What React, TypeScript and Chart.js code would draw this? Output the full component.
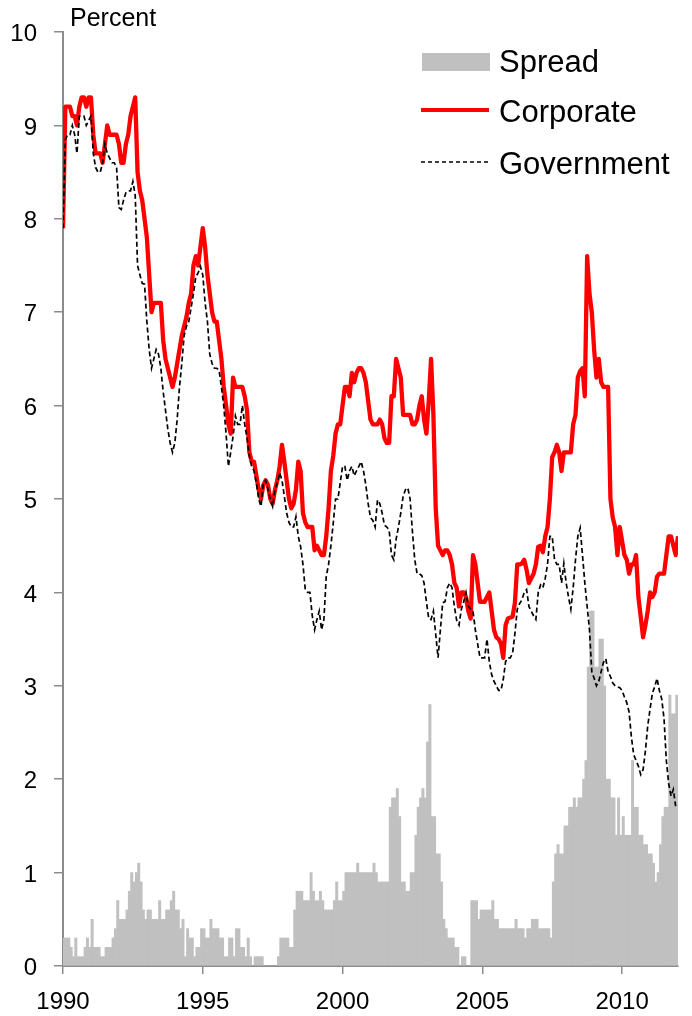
import React, { useEffect, useRef } from "react";
import { Chart, registerables } from "chart.js";

Chart.register(...registerables);

const START_YEAR = 1990;
const END_YEAR = 2012;
const xTickYears = [1990, 1995, 2000, 2005, 2010];
const axisTitle = "Percent";
const legendLabels = ["Spread", "Corporate", "Government"];

// Monthly corporate bond yield, Jan 1990 .. Jan 2012 (percent)
const corporate = [
  7.9, 9.2, 9.2, 9.2, 9.1, 9.1, 9.0, 9.2, 9.3, 9.3,
  9.2, 9.3, 9.3, 8.9, 8.7, 8.7, 8.7, 8.6, 8.8, 9.0,
  8.9, 8.9, 8.9, 8.9, 8.8, 8.6, 8.6, 8.8, 8.9, 9.1,
  9.2, 9.3, 8.5, 8.3, 8.2, 8.0, 7.8, 7.4, 7.0, 7.1,
  7.1, 7.1, 7.1, 6.7, 6.5, 6.4, 6.3, 6.2, 6.3, 6.45,
  6.6, 6.75, 6.85, 6.95, 7.1, 7.2, 7.5, 7.6, 7.5, 7.7,
  7.9, 7.7, 7.4, 7.2, 7.0, 6.9, 6.9, 6.7, 6.5, 6.2,
  6.0, 5.8, 5.7, 6.3, 6.2, 6.2, 6.2, 6.2, 6.1, 5.95,
  5.5, 5.4, 5.4, 5.25, 5.1, 5.0, 5.15, 5.2, 5.15, 5.0,
  4.95, 5.1, 5.2, 5.35, 5.58, 5.4, 5.2, 5.0, 4.9, 4.95,
  5.1, 5.4, 5.3, 4.85, 4.75, 4.7, 4.7, 4.7, 4.45, 4.5,
  4.45, 4.4, 4.4, 4.6, 4.9, 5.3, 5.46, 5.7, 5.8, 5.8,
  6.0, 6.2, 6.2, 6.1, 6.35, 6.25, 6.35, 6.4, 6.4, 6.35,
  6.25, 6.05, 5.85, 5.8, 5.8, 5.8, 5.85, 5.8, 5.65, 5.6,
  5.6, 6.1, 6.1, 6.5, 6.4, 6.3, 5.9, 5.9, 5.9, 5.9,
  5.8, 5.8, 5.85, 6.0, 6.1, 5.85, 5.7, 6.05, 6.5, 5.9,
  4.9, 4.5, 4.45, 4.4, 4.45, 4.45, 4.4, 4.3, 4.1, 4.05,
  3.85, 4.0, 4.0, 3.95, 3.8, 3.72, 4.4, 4.3, 4.1, 3.9,
  3.9, 3.9, 3.95, 4.0, 3.8, 3.6, 3.52, 3.5, 3.45, 3.3,
  3.65, 3.72, 3.73, 3.74, 3.89, 4.3, 4.3, 4.31, 4.35, 4.24,
  4.1, 4.15, 4.2, 4.3, 4.49, 4.5, 4.43, 4.6, 4.7, 5.0,
  5.45, 5.5, 5.58, 5.5, 5.3, 5.5, 5.5, 5.5, 5.5, 5.8,
  5.9, 6.3, 6.37, 6.4, 6.1, 7.6, 7.2, 7.0, 6.6, 6.3,
  6.5, 6.25, 6.2, 6.2, 6.2, 5.0, 4.8, 4.7, 4.4, 4.7,
  4.55, 4.4, 4.35, 4.2, 4.3, 4.3, 4.4, 3.95, 3.74, 3.52,
  3.65, 3.8, 4.0, 3.95, 4.0, 4.17, 4.2, 4.2, 4.2, 4.4,
  4.6, 4.6, 4.5, 4.4, 4.6,
];

// Monthly government bond yield, Jan 1990 .. Jan 2012 (percent)
const government = [
  7.9, 8.85, 8.9, 8.9, 9.0, 8.9, 8.7, 9.1, 9.1, 9.1,
  9.0, 9.05, 9.1, 8.7, 8.55, 8.5, 8.5, 8.6, 8.8, 8.7,
  8.65, 8.6, 8.6, 8.55, 8.12, 8.1, 8.2, 8.28, 8.3, 8.3,
  8.4, 8.25, 7.5, 7.4, 7.31, 7.3, 6.9, 6.6, 6.4, 6.5,
  6.6, 6.55, 6.4, 6.15, 5.95, 5.75, 5.6, 5.5, 5.6, 5.85,
  6.2, 6.45, 6.75, 6.85, 6.9, 7.05, 7.2, 7.38, 7.42, 7.49,
  7.4, 7.1, 6.9, 6.55, 6.45, 6.4, 6.4, 6.38, 6.2, 6.0,
  5.7, 5.35, 5.5, 5.67, 5.89, 5.8, 5.8, 6.0, 5.8, 5.65,
  5.46, 5.35, 5.3, 5.17, 5.0, 4.92, 5.17, 5.2, 5.1, 5.0,
  4.92, 5.1, 5.17, 5.28, 5.2, 5.03, 4.85, 4.75, 4.7, 4.7,
  4.81, 4.6, 4.49, 4.3, 4.03, 4.0, 4.0, 3.75, 3.6, 3.71,
  3.8, 3.6, 3.71, 4.17, 4.3, 4.5, 4.74, 5.0, 5.0, 5.17,
  5.35, 5.35, 5.2, 5.3, 5.35, 5.25, 5.3, 5.35, 5.4, 5.3,
  5.15, 4.95, 4.8, 4.77, 4.7, 4.99, 4.95, 4.85, 4.72, 4.7,
  4.67, 4.4, 4.35, 4.57, 4.7, 4.85, 5.03, 5.1, 5.12, 5.0,
  4.65, 4.35, 4.2, 4.2, 4.18, 4.1, 3.9, 3.72, 3.71, 3.8,
  3.55, 3.3, 3.6, 3.89, 3.9, 4.05, 4.1, 4.05, 3.85, 3.7,
  3.65, 3.82, 3.9, 4.0, 3.85, 3.82, 3.8, 3.6, 3.45, 3.3,
  3.3, 3.3, 3.5, 3.26, 3.12, 3.05, 3.0, 2.95, 2.95, 3.07,
  3.26, 3.3, 3.3, 3.35, 3.56, 3.82, 3.88, 3.92, 4.0, 4.03,
  3.85, 3.8, 3.75, 3.71, 4.0, 4.08, 4.05, 4.15, 4.3, 4.6,
  4.6, 4.35, 4.3, 4.3, 4.1, 4.31, 4.1, 3.95, 3.82, 4.05,
  4.35, 4.6, 4.69, 4.4, 4.1, 3.85, 3.6, 3.15, 3.08, 3.0,
  3.05, 3.15, 3.25, 3.29, 3.15, 3.1, 3.03, 3.0, 2.99, 2.98,
  2.95, 2.88, 2.82, 2.72, 2.45, 2.26, 2.2, 2.14, 2.05, 2.1,
  2.3, 2.57, 2.75, 2.92, 2.99, 3.08, 2.95, 2.86, 2.65, 2.2,
  1.95, 1.82, 1.89, 1.71, 1.7,
];

// Monthly spread (percentage points), Jan 1990 .. Dec 2011
const spread = [
  0.3, 0.3, 0.3, 0.2, 0.1, 0.3, 0.1, 0.1, 0.1, 0.2,
  0.3, 0.2, 0.5, 0.2, 0.2, 0.2, 0.1, 0.1, 0.2, 0.2,
  0.2, 0.3, 0.4, 0.7, 0.5, 0.5, 0.5, 0.6, 0.8, 1.0,
  0.9, 1.0, 1.1, 0.9, 0.6, 0.5, 0.6, 0.6, 0.5, 0.5,
  0.5, 0.7, 0.5, 0.5, 0.6, 0.6, 0.7, 0.8, 0.6, 0.6,
  0.4, 0.5, 0.1, 0.4, 0.3, 0.3, 0.1, 0.2, 0.2, 0.4,
  0.4, 0.3, 0.3, 0.5, 0.4, 0.4, 0.4, 0.3, 0.3, 0.1,
  0.1, 0.3, 0.3, 0.1, 0.4, 0.4, 0.2, 0.2, 0.1, 0.3,
  0.1, 0.0, 0.1, 0.1, 0.1, 0.1, 0.0, 0.0, 0.0, 0.0,
  0.0, 0.0, 0.1, 0.3, 0.3, 0.3, 0.3, 0.2, 0.2, 0.6,
  0.8, 0.8, 0.8, 0.7, 0.7, 0.7, 1.0, 0.8, 0.7, 0.7,
  0.8, 0.7, 0.6, 0.6, 0.6, 0.6, 0.7, 0.9, 0.7, 0.7,
  0.8, 1.0, 1.0, 1.0, 1.0, 1.0, 1.1, 1.0, 1.0, 1.0,
  1.0, 1.0, 1.0, 1.1, 1.0, 0.9, 0.9, 0.9, 0.9, 0.9,
  1.7, 1.8, 1.8, 1.9, 1.6, 0.9, 0.9, 0.8, 0.8, 1.0,
  1.0, 1.4, 1.7, 1.8, 1.9, 1.8, 2.4, 2.8, 1.6, 1.6,
  1.2, 1.2, 0.9, 0.5, 0.4, 0.3, 0.3, 0.3, 0.2, 0.2,
  0.0, 0.1, 0.1, 0.0, 0.0, 0.7, 0.7, 0.7, 0.5, 0.6,
  0.6, 0.6, 0.6, 0.6, 0.7, 0.5, 0.5, 0.4, 0.4, 0.4,
  0.4, 0.4, 0.4, 0.4, 0.5, 0.4, 0.4, 0.4, 0.3, 0.4,
  0.4, 0.5, 0.5, 0.5, 0.4, 0.4, 0.4, 0.4, 0.4, 0.3,
  0.9, 1.2, 1.3, 1.2, 1.2, 1.5, 1.5, 1.7, 1.7, 1.8,
  1.7, 1.8, 1.8, 2.0, 2.2, 3.2, 3.8, 3.8, 3.2, 3.2,
  3.5, 3.5, 3.0, 2.0, 2.0, 1.8, 1.8, 1.4, 1.8, 1.4,
  1.6, 1.4, 1.4, 1.4, 2.2, 1.7, 1.7, 1.4, 1.4, 1.3,
  1.3, 1.2, 1.2, 1.1, 0.9, 1.0, 1.3, 1.6, 1.7, 1.7,
  2.9, 2.7, 2.7, 2.9,
];

const FONT = "'Liberation Sans', Arial, Helvetica, sans-serif";
const AXIS_GREY = "#8c8c8c";
const BAR_GREY = "#c0c0c0";

export default function App() {
  const ref = useRef<HTMLCanvasElement | null>(null);

  useEffect(() => {
    document.body.style.margin = "0";
    const canvas = ref.current;
    if (!canvas) return;

    const overlay = {
      id: "overlay",
      afterDraw(chart: any) {
        const ctx = chart.ctx as CanvasRenderingContext2D;
        ctx.save();
        ctx.fillStyle = "#000";
        ctx.textAlign = "left";
        ctx.textBaseline = "alphabetic";
        ctx.font = `25px ${FONT}`;
        ctx.fillText(axisTitle, 70, 26);

        // legend
        ctx.fillStyle = BAR_GREY;
        ctx.fillRect(422, 53, 68, 18);

        ctx.beginPath();
        ctx.strokeStyle = "#ff0000";
        ctx.lineWidth = 4;
        ctx.moveTo(421, 110);
        ctx.lineTo(489, 110);
        ctx.stroke();

        ctx.beginPath();
        ctx.strokeStyle = "#000";
        ctx.lineWidth = 1.6;
        ctx.setLineDash([4, 3]);
        ctx.moveTo(421, 162);
        ctx.lineTo(489, 162);
        ctx.stroke();
        ctx.setLineDash([]);

        ctx.fillStyle = "#000";
        ctx.font = `31px ${FONT}`;
        ctx.fillText(legendLabels[0], 499, 72);
        ctx.fillText(legendLabels[1], 499, 122);
        ctx.fillText(legendLabels[2], 499, 174);
        ctx.restore();
      },
    };

    const chart = new Chart(canvas, {
      type: "bar",
      data: {
        datasets: [
          {
            type: "line",
            label: legendLabels[2],
            data: government.map((v, k) => ({ x: START_YEAR + k / 12, y: v })),
            borderColor: "#000000",
            borderWidth: 1.7,
            borderDash: [5, 3],
            pointRadius: 0,
            tension: 0,
            fill: false,
            order: 0,
          } as any,
          {
            type: "line",
            label: legendLabels[1],
            data: corporate.map((v, k) => ({ x: START_YEAR + k / 12, y: v })),
            borderColor: "#ff0000",
            borderWidth: 4.3,
            pointRadius: 0,
            tension: 0,
            fill: false,
            borderJoinStyle: "round",
            order: 1,
          } as any,
          {
            type: "bar",
            label: legendLabels[0],
            data: spread.map((v, j) => ({ x: START_YEAR + (j + 0.5) / 12, y: v })),
            backgroundColor: BAR_GREY,
            borderWidth: 0,
            barPercentage: 1,
            categoryPercentage: 1,
            order: 2,
          } as any,
        ],
      },
      options: {
        responsive: false,
        maintainAspectRatio: false,
        animation: false,
        devicePixelRatio: 1,
        layout: { padding: { top: 32, right: 14, left: 0, bottom: 0 } },
        plugins: {
          legend: { display: false },
          tooltip: { enabled: false },
          title: { display: false },
        },
        scales: {
          x: {
            type: "linear",
            min: START_YEAR,
            max: END_YEAR,
            offset: false,
            grid: {
              display: true,
              offset: false,
              drawOnChartArea: false,
              drawTicks: true,
              tickLength: 8,
              color: AXIS_GREY,
              lineWidth: 1.5,
            },
            border: { display: true, color: AXIS_GREY, width: 2 },
            ticks: {
              autoSkip: false,
              maxRotation: 0,
              padding: 14,
              color: "#000",
              font: { family: FONT, size: 24 },
              callback: (v: any) => String(v),
            },
            afterBuildTicks: (scale: any) => {
              scale.ticks = xTickYears.map((v) => ({ value: v }));
            },
            afterFit: (scale: any) => {
              scale.height = 50;
            },
          } as any,
          y: {
            type: "linear",
            min: 0,
            max: 10,
            grid: {
              display: true,
              drawOnChartArea: false,
              drawTicks: true,
              tickLength: 9,
              color: AXIS_GREY,
              lineWidth: 1.5,
            },
            border: { display: true, color: AXIS_GREY, width: 2 },
            ticks: {
              stepSize: 1,
              padding: 17,
              labelOffset: 2.5,
              color: "#000",
              font: { family: FONT, size: 24 },
              callback: (v: any) => String(v),
            },
            afterFit: (scale: any) => {
              scale.width = 63;
            },
          } as any,
        },
      },
      plugins: [overlay],
    });

    return () => chart.destroy();
  }, []);

  return (
    <div style={{ position: "absolute", left: 0, top: 0, width: 692, height: 1016 }}>
      <canvas ref={ref} width={692} height={1016} style={{ display: "block", width: 692, height: 1016 }} />
    </div>
  );
}
